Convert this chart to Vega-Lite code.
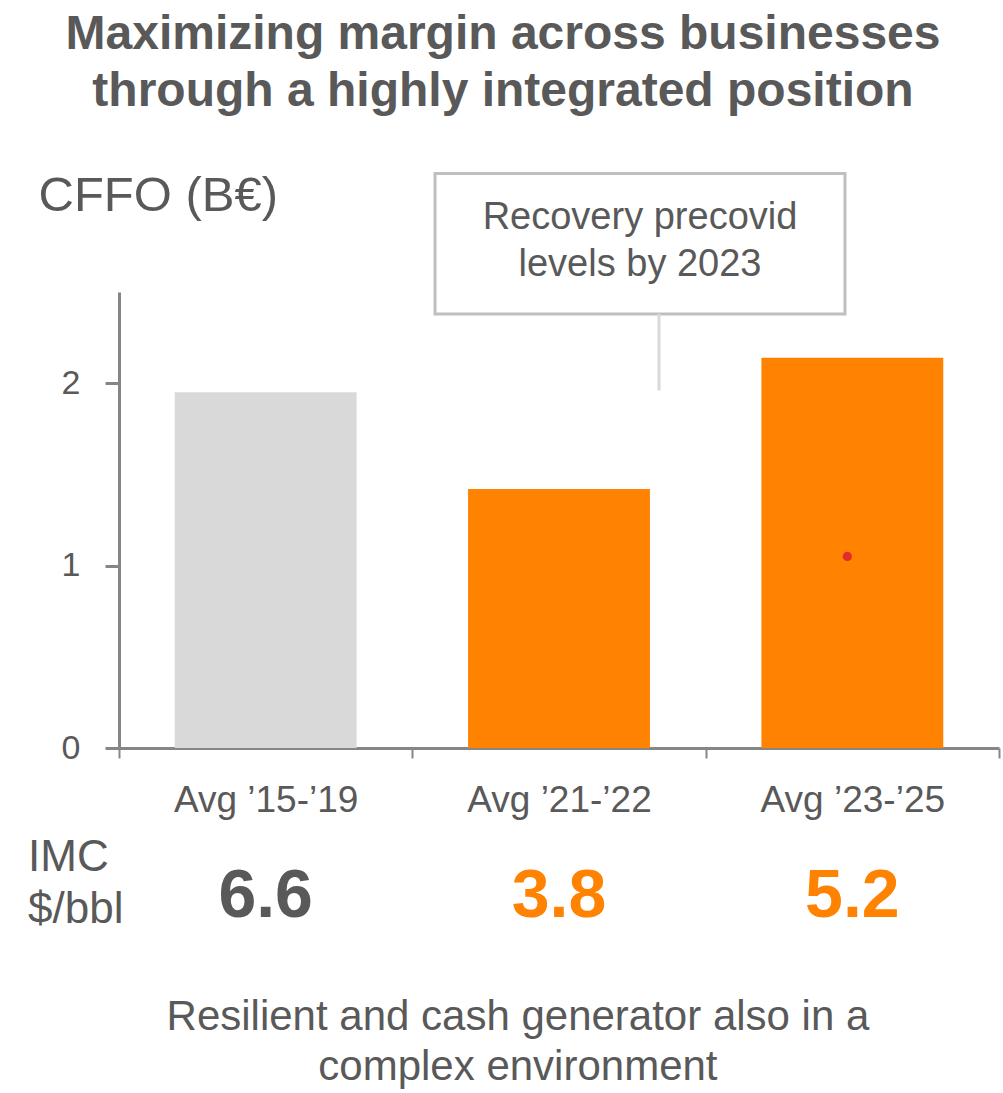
{
  "$schema": "https://vega.github.io/schema/vega-lite/v6.json",
  "width": 880,
  "height": 456,
  "autosize": {"type": "none"},
  "padding": {"left": 119, "top": 292, "right": 4, "bottom": 345},
  "background": "white",
  "config": {
    "view": {"stroke": null},
    "font": "Liberation Sans"
  },
  "title": {
    "text": ["Maximizing margin across businesses", "through a highly integrated position"],
    "font": "Liberation Sans",
    "fontSize": 48,
    "fontWeight": "bold",
    "color": "#595959",
    "anchor": "middle",
    "frame": "group",
    "dx": -56,
    "offset": 55,
    "lineHeight": 57
  },
  "data": {
    "values": [
      {"period": "Avg ’15-’19", "cffo": 1.95, "imc": 6.6, "group": "historic"},
      {"period": "Avg ’21-’22", "cffo": 1.42, "imc": 3.8, "group": "plan"},
      {"period": "Avg ’23-’25", "cffo": 2.14, "imc": 5.2, "group": "plan"}
    ]
  },
  "resolve": {"scale": {"color": "independent"}},
  "layer": [
    {
      "mark": {"type": "bar", "width": {"band": 0.62}},
      "encoding": {
        "x": {
          "field": "period", "type": "nominal", "sort": null,
          "scale": {"paddingInner": 0, "paddingOuter": 0},
          "axis": {
            "title": null, "labelAngle": 0, "labelFontSize": 37, "labelColor": "#595959",
            "labelPadding": 24, "labelLimit": 0, "domainColor": "#868686", "domainWidth": 3,
            "tickColor": "#868686", "tickWidth": 2, "tickSize": 10, "tickBand": "extent",
            "labelFont": "Liberation Sans"
          }
        },
        "y": {
          "field": "cffo", "type": "quantitative",
          "scale": {"domain": [0, 2.5], "nice": false},
          "axis": {
            "title": "CFFO (B€)", "titleAngle": 0, "titleAlign": "left", "titleBaseline": "alphabetic",
            "titleX": -81, "titleY": -82, "titleFontSize": 49, "titleFontWeight": "normal",
            "titleColor": "#595959", "titleFont": "Liberation Sans",
            "values": [0, 1, 2], "format": "d", "grid": false, "labelFontSize": 34, "labelColor": "#595959",
            "labelPadding": 25, "domainColor": "#868686", "domainWidth": 3,
            "tickColor": "#868686", "tickWidth": 3, "tickSize": 14, "labelFont": "Liberation Sans"
          }
        },
        "color": {
          "field": "group", "type": "nominal",
          "scale": {"domain": ["historic", "plan"], "range": ["#d9d9d9", "#ff8200"]},
          "legend": null
        }
      }
    },
    {
      "mark": {"type": "text", "fontSize": 68, "fontWeight": "bold", "baseline": "middle", "font": "Liberation Sans"},
      "encoding": {
        "x": {"field": "period", "type": "nominal", "sort": null},
        "y": {"datum": -0.816, "type": "quantitative"},
        "text": {"field": "imc", "type": "quantitative", "format": ".1f"},
        "color": {
          "field": "group", "type": "nominal",
          "scale": {"domain": ["historic", "plan"], "range": ["#595959", "#ff8200"]},
          "legend": null
        }
      }
    },
    {
      "data": {"values": [{"period": "Avg ’23-’25", "marker": 1.05}]},
      "mark": {"type": "point", "filled": true, "size": 85, "color": "#e32b2b", "opacity": 1, "xOffset": -5},
      "encoding": {
        "x": {"field": "period", "type": "nominal"},
        "y": {"field": "marker", "type": "quantitative"}
      }
    },
    {
      "data": {"values": [{"label": "Recovery precovid"}]},
      "mark": {"type": "bar", "width": 410, "xOffset": 81, "fill": null, "fillOpacity": 0, "stroke": "#bfbfbf", "strokeWidth": 3},
      "encoding": {
        "x": {"datum": "Avg ’21-’22", "type": "nominal"},
        "y": {"datum": 3.15, "type": "quantitative"},
        "y2": {"datum": 2.38}
      }
    },
    {
      "data": {"values": [{"label": "Recovery precovid"}]},
      "mark": {"type": "rule", "stroke": "#d9d9d9", "strokeWidth": 3, "xOffset": 100},
      "encoding": {
        "x": {"datum": "Avg ’21-’22", "type": "nominal"},
        "y": {"datum": 2.38, "type": "quantitative"},
        "y2": {"datum": 1.96}
      }
    },
    {
      "data": {"values": [{"label": ["Recovery precovid", "levels by 2023"]}]},
      "mark": {"type": "text", "fontSize": 38, "color": "#595959", "baseline": "middle", "lineHeight": 47, "xOffset": 81, "font": "Liberation Sans"},
      "encoding": {
        "x": {"datum": "Avg ’21-’22", "type": "nominal"},
        "y": {"datum": 2.904, "type": "quantitative"},
        "text": {"field": "label"}
      }
    },
    {
      "data": {"values": [{"label": ["IMC", "$/bbl"]}]},
      "mark": {"type": "text", "fontSize": 44, "color": "#595959", "baseline": "middle", "align": "left", "lineHeight": 52, "font": "Liberation Sans", "dx": -91},
      "encoding": {
        "x": {"datum": "Avg ’15-’19", "type": "nominal", "bandPosition": 0},
        "y": {"datum": -0.603, "type": "quantitative"},
        "text": {"field": "label"}
      }
    },
    {
      "data": {"values": [{"label": ["Resilient and cash generator also in a", "complex environment"]}]},
      "mark": {"type": "text", "fontSize": 42, "color": "#595959", "baseline": "middle", "align": "center", "lineHeight": 50, "font": "Liberation Sans"},
      "encoding": {
        "x": {"datum": "Avg ’21-’22", "type": "nominal", "bandPosition": 0.36},
        "y": {"datum": -1.474, "type": "quantitative"},
        "text": {"field": "label"}
      }
    }
  ]
}
